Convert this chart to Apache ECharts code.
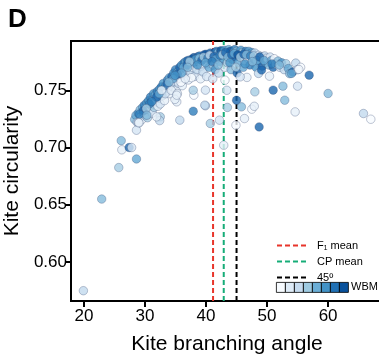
<!DOCTYPE html>
<html><head><meta charset="utf-8">
<script src="https://cdn.jsdelivr.net/npm/echarts@6/dist/echarts.min.js"></script>
<style>html,body{margin:0;padding:0;background:#fff}#c{width:379px;height:357px}</style>
</head><body><div id="c"></div>
<script>
// [angle, circularity, WBM (0..1)]
const arcPoints = [
[28.3,0.7245,0.5],[28.5,0.7280,0.6],[28.7,0.7220,0.3],[28.9,0.7300,0.7],[29.0,0.7215,0.2],[29.2,0.7330,0.5],[29.3,0.7265,0.4],[29.5,0.7245,0.1],
[29.6,0.7350,0.6],[29.8,0.7300,0.5],[29.9,0.7370,0.8],[30.0,0.7280,0.3],[30.1,0.7330,0.2],[30.3,0.7390,0.7],[30.4,0.7260,0.4],[30.5,0.7350,0.6],
[30.6,0.7410,0.7],[30.8,0.7330,0.3],[30.9,0.7440,0.8],[31.0,0.7370,0.5],[31.2,0.7300,0.2],[31.3,0.7420,0.6],[31.4,0.7470,0.7],[31.5,0.7350,0.4],
[31.7,0.7460,0.6],[31.8,0.7400,0.3],[32.0,0.7490,0.8],[32.1,0.7360,0.1],[32.2,0.7430,0.5],[32.4,0.7510,0.7],[32.5,0.7380,0.2],
[32.7,0.7530,0.8],[32.8,0.7450,0.4],[33.0,0.7560,0.7],[33.1,0.7480,0.5],[33.2,0.7410,0.1],[33.4,0.7540,0.6],[33.5,0.7500,0.3],
[33.7,0.7590,0.8],[33.8,0.7520,0.2],[34.0,0.7610,0.6],[34.1,0.7470,0.1],[34.2,0.7560,0.4],[34.4,0.7620,0.9],[34.5,0.7530,0.3],
[34.7,0.7650,0.7],[34.8,0.7580,0.2],[35.0,0.7680,0.8],[35.1,0.7500,0.1],[35.2,0.7620,0.5],[35.4,0.7660,0.6],[35.5,0.7560,0.2],
[35.7,0.7700,0.9],[35.8,0.7600,0.3],[36.0,0.7720,0.7],[36.1,0.7540,0.1],[36.2,0.7660,0.4],[36.4,0.7740,0.8],[36.5,0.7620,0.2],
[36.7,0.7750,0.6],[36.8,0.7680,0.2],[37.0,0.7760,0.9],[37.1,0.7590,0.1],[37.2,0.7720,0.5],[37.4,0.7765,0.7],[37.5,0.7650,0.3],
[37.7,0.7770,0.8],[37.8,0.7700,0.1],[38.0,0.7785,1.0],[38.1,0.7620,0.2],[38.2,0.7740,0.6],[38.4,0.7780,0.7],[38.5,0.7680,0.3],
[38.7,0.7795,0.9],[38.8,0.7750,0.4],[39.0,0.7800,0.8],[39.1,0.7600,0.1],[39.2,0.7710,0.2],[39.4,0.7775,0.6],[39.5,0.7660,0.3],
[39.7,0.7810,0.9],[39.8,0.7770,0.5],[40.0,0.7815,1.0],[40.1,0.7620,0.2],[40.2,0.7730,0.3],[40.4,0.7790,0.7],[40.5,0.7700,0.6],
[40.7,0.7825,0.9],[40.8,0.7775,0.8],[41.0,0.7815,0.6],[41.1,0.7600,0.2],[41.2,0.7720,0.4],[41.4,0.7830,1.0],[41.5,0.7680,0.7],
[41.7,0.7840,0.8],[41.8,0.7800,0.9],[42.0,0.7830,0.5],[42.1,0.7650,0.3],[42.2,0.7750,0.7],[42.4,0.7845,1.0],
[42.6,0.7840,0.9],[42.8,0.7780,0.6],[43.0,0.7850,0.7],[43.1,0.7700,0.2],[43.3,0.7810,1.0],[43.5,0.7740,0.4],
[43.7,0.7855,0.6],[43.8,0.7810,0.8],[44.0,0.7840,1.0],[44.1,0.7680,0.5],[44.3,0.7770,0.7],[44.5,0.7830,0.3],
[44.7,0.7855,0.8],[44.8,0.7790,0.9],[45.0,0.7840,0.5],[45.1,0.7650,0.9],[45.3,0.7740,0.6],[45.5,0.7815,0.2],
[45.7,0.7850,0.7],[45.8,0.7800,1.0],[46.0,0.7830,0.4],[46.1,0.7700,0.6],[46.3,0.7760,0.3],[46.5,0.7840,0.8],
[46.7,0.7825,0.9],[46.8,0.7780,0.2],[47.0,0.7840,0.6],[47.2,0.7720,0.8],[47.4,0.7810,0.1],[47.5,0.7830,0.7],
[47.7,0.7815,0.5],[47.9,0.7770,0.9],[48.0,0.7825,0.3],[48.2,0.7700,0.7],[48.4,0.7790,0.6],
[48.6,0.7805,0.2],[48.8,0.7760,0.8],[49.0,0.7795,0.4],[49.2,0.7710,0.9],[49.4,0.7790,0.1],
[49.6,0.7800,0.3],[49.8,0.7740,0.7],[50.0,0.7780,0.1],[50.3,0.7720,0.5],[50.5,0.7790,0.2],
[50.7,0.7760,0.6],[51.0,0.7700,0.9],[51.2,0.7775,0.0],[51.4,0.7730,0.4],
[51.8,0.7755,0.5],[52.1,0.7700,0.2],[52.4,0.7740,0.7],[52.8,0.7680,0.3],[53.1,0.7732,0.4],
[53.5,0.7690,0.6],[53.7,0.7645,0.5],[54.2,0.7660,0.9],[54.7,0.7737,0.3],[55.5,0.7700,0.0],[55.0,0.7680,0.2],
[38.3,0.7770,0.7],[38.9,0.7780,0.5],[39.3,0.7760,0.9],[39.6,0.7790,0.4],[40.3,0.7780,0.8],[40.6,0.7805,0.3],[41.3,0.7795,0.9],[41.6,0.7770,0.6],
[42.3,0.7805,0.8],[42.7,0.7810,0.4],[43.2,0.7830,0.9],[43.6,0.7790,0.5],[44.2,0.7810,0.9],[44.6,0.7820,0.6],[45.2,0.7810,1.0],[45.6,0.7790,0.4],
[46.2,0.7815,0.9],[46.6,0.7810,0.5],[47.3,0.7800,0.8],[47.8,0.7800,0.4],[48.3,0.7760,0.6],[48.8,0.7790,0.9],[36.3,0.7700,0.6],[36.9,0.7720,0.9],
[37.3,0.7750,0.4],[35.3,0.7640,0.9],[34.6,0.7600,0.6],[33.6,0.7550,0.9],[32.9,0.7500,0.6],[31.9,0.7440,0.9],[30.7,0.7380,0.8],[29.7,0.7320,0.9],
[29.1,0.7290,0.8],[33.3,0.7470,0.2],[34.3,0.7500,0.1],[35.9,0.7570,0.0],[37.6,0.7610,0.0],[36.6,0.7600,0.1],
[37.0,0.7700,0.5],[38.6,0.7720,0.7],[39.9,0.7740,0.6],[41.0,0.7750,0.8],[42.0,0.7720,0.5],[43.9,0.7740,0.7],[44.9,0.7700,0.4],[46.4,0.7730,0.7],
[47.6,0.7750,0.5],[49.5,0.7760,0.6],[50.8,0.7730,0.8],[52.0,0.7720,0.5],[33.9,0.7570,0.5],[32.3,0.7470,0.6],[30.2,0.7340,0.4],[31.1,0.7400,0.8],
[36.0,0.7650,0.6],[34.9,0.7630,0.7]
];
const sparsePoints = [
[32.5,0.7268,0.4],[35.7,0.7239,0.3],[35.2,0.7399,0.1],[35.3,0.7472,0.1],[37.9,0.7317,0.8],[39.9,0.7364,0.3],[39.9,0.7501,0.2],[38.0,0.7457,0.0],
[40.7,0.7210,0.4],[42.2,0.7239,0.2],[42.9,0.7020,0.1],[43.5,0.7350,0.4],[45.0,0.7413,0.9],[45.8,0.7355,0.5],[46.3,0.7253,0.1],[47.5,0.7335,0.0],
[47.9,0.7360,0.1],[48.7,0.7180,0.9],[44.9,0.7195,0.0],[48.0,0.7486,0.4],[51.0,0.7501,0.9],[52.6,0.7536,0.5],[52.9,0.7413,0.5],[54.6,0.7311,0.1],
[55.0,0.7536,0.2],[60.0,0.7472,0.5],[56.9,0.7632,0.9],[54.0,0.7647,0.6],[55.2,0.7682,0.0],[65.8,0.7297,0.3],[67.0,0.7247,0.0],[28.9,0.7219,0.1],
[28.6,0.7151,0.2],[32.4,0.7235,0.3],[50.4,0.7623,0.1],[46.7,0.7612,0.1],[45.6,0.7617,0.2],[48.6,0.7647,0.3],[49.1,0.7676,0.9],[43.1,0.7588,0.0],
[43.4,0.7500,0.2],[39.8,0.7370,0.3],[32.7,0.7500,0.1],[34.9,0.7420,0.1],[35.2,0.7457,0.1],[37.9,0.7500,0.4],[31.9,0.7268,0.1],[30.3,0.7282,0.5]
];
const lowerPoints = [
[19.9,0.5750,0.3],[22.9,0.6550,0.5],[25.7,0.6825,0.4],[26.1,0.7060,0.5],[26.2,0.6980,0.1],[27.4,0.7000,0.9],[27.8,0.7000,0.2],[28.6,0.6900,0.6],[29.0,0.7216,0.1]
];
const f1Mean = 41.15, cpMean = 42.9, refAngle = 45;
const xTicks = [20,30,40,50,60];
const yTicks = [0.60,0.65,0.70,0.75];
const xRange = [17.87, 69.0];
const yRange = [0.566, 0.793];
const wbmColors = ['#f7fbff','#deebf7','#c6dbef','#9ecae1','#6baed6','#4292c6','#2171b5','#08519c'];

const chart = echarts.init(document.getElementById('c'));
const FONT = 'Liberation Sans, Arial, sans-serif';
const allPts = arcPoints.concat(sparsePoints, lowerPoints);
function vline(name, x, color) {
  return {
    name: name, type: 'line', symbol: 'none', z: 1,
    data: [[x, yRange[0]], [x, yRange[1]]],
    lineStyle: { color: color, width: 2, type: [5, 3] },
    itemStyle: { color: color }
  };
}
const graphics = [
  { type: 'text', left: 8, top: 7, style: { text: 'D', font: 'bold 26px ' + FONT, fill: '#000' } },
  { type: 'text', left: 351, top: 281, style: { text: 'WBM', font: '11px ' + FONT, fill: '#000' } }
];
wbmColors.forEach((c, i) => {
  graphics.push({ type: 'rect', left: 276 + i * 9, top: 282, shape: { width: 9, height: 10 },
    style: { fill: c, stroke: '#000', lineWidth: 0.8 } });
});
chart.setOption({
  animation: false,
  textStyle: { fontFamily: FONT },
  grid: { left: 71, right: -4, top: 41, bottom: 56, show: true, borderColor: '#000', borderWidth: 2,
    outerBoundsMode: 'none', containLabel: false },
  xAxis: {
    type: 'value', min: xRange[0], max: xRange[1],
    name: 'Kite branching angle', nameLocation: 'middle', nameGap: 33,
    nameTextStyle: { fontSize: 21, color: '#000', fontFamily: FONT },
    axisLine: { lineStyle: { color: '#000', width: 2 } },
    axisTick: { show: true, length: 6, lineStyle: { width: 2, color: '#000' }, customValues: xTicks },
    axisLabel: { fontSize: 17, color: '#000', margin: 7, customValues: xTicks, fontFamily: FONT },
    splitLine: { show: false }
  },
  yAxis: {
    type: 'value', min: yRange[0], max: yRange[1],
    name: 'Kite circularity', nameLocation: 'middle', nameGap: 45,
    nameTextStyle: { fontSize: 21, color: '#000', fontFamily: FONT },
    axisLine: { show: true, lineStyle: { color: '#000', width: 2 } },
    axisTick: { show: true, length: 6, lineStyle: { width: 2, color: '#000' }, customValues: yTicks },
    axisLabel: { fontSize: 17, color: '#000', margin: 4, customValues: yTicks, fontFamily: FONT,
      formatter: v => v.toFixed(2) },
    splitLine: { show: false }
  },
  visualMap: { show: false, type: 'continuous', dimension: 2, min: 0, max: 1, seriesIndex: 0,
    inRange: { color: wbmColors } },
  legend: {
    orient: 'vertical', left: 276, top: 240, padding: 0, itemWidth: 30, itemHeight: 8, itemGap: 5,
    itemStyle: { opacity: 0 },
    textStyle: { fontSize: 11, color: '#000', fontFamily: FONT, padding: [0, 0, 0, 5] },
    data: ['F\u2081 mean', 'CP mean', '45\u00ba']
  },
  graphic: graphics,
  series: [
    { type: 'scatter', data: allPts, symbolSize: 8.5, z: 3,
      itemStyle: { opacity: 0.8, borderColor: 'rgba(50,70,110,0.55)', borderWidth: 0.7 } },
    vline('F\u2081 mean', f1Mean, '#e8352b'),
    vline('CP mean', cpMean, '#16ad78'),
    vline('45\u00ba', refAngle, '#000')
  ]
});
</script></body></html>
